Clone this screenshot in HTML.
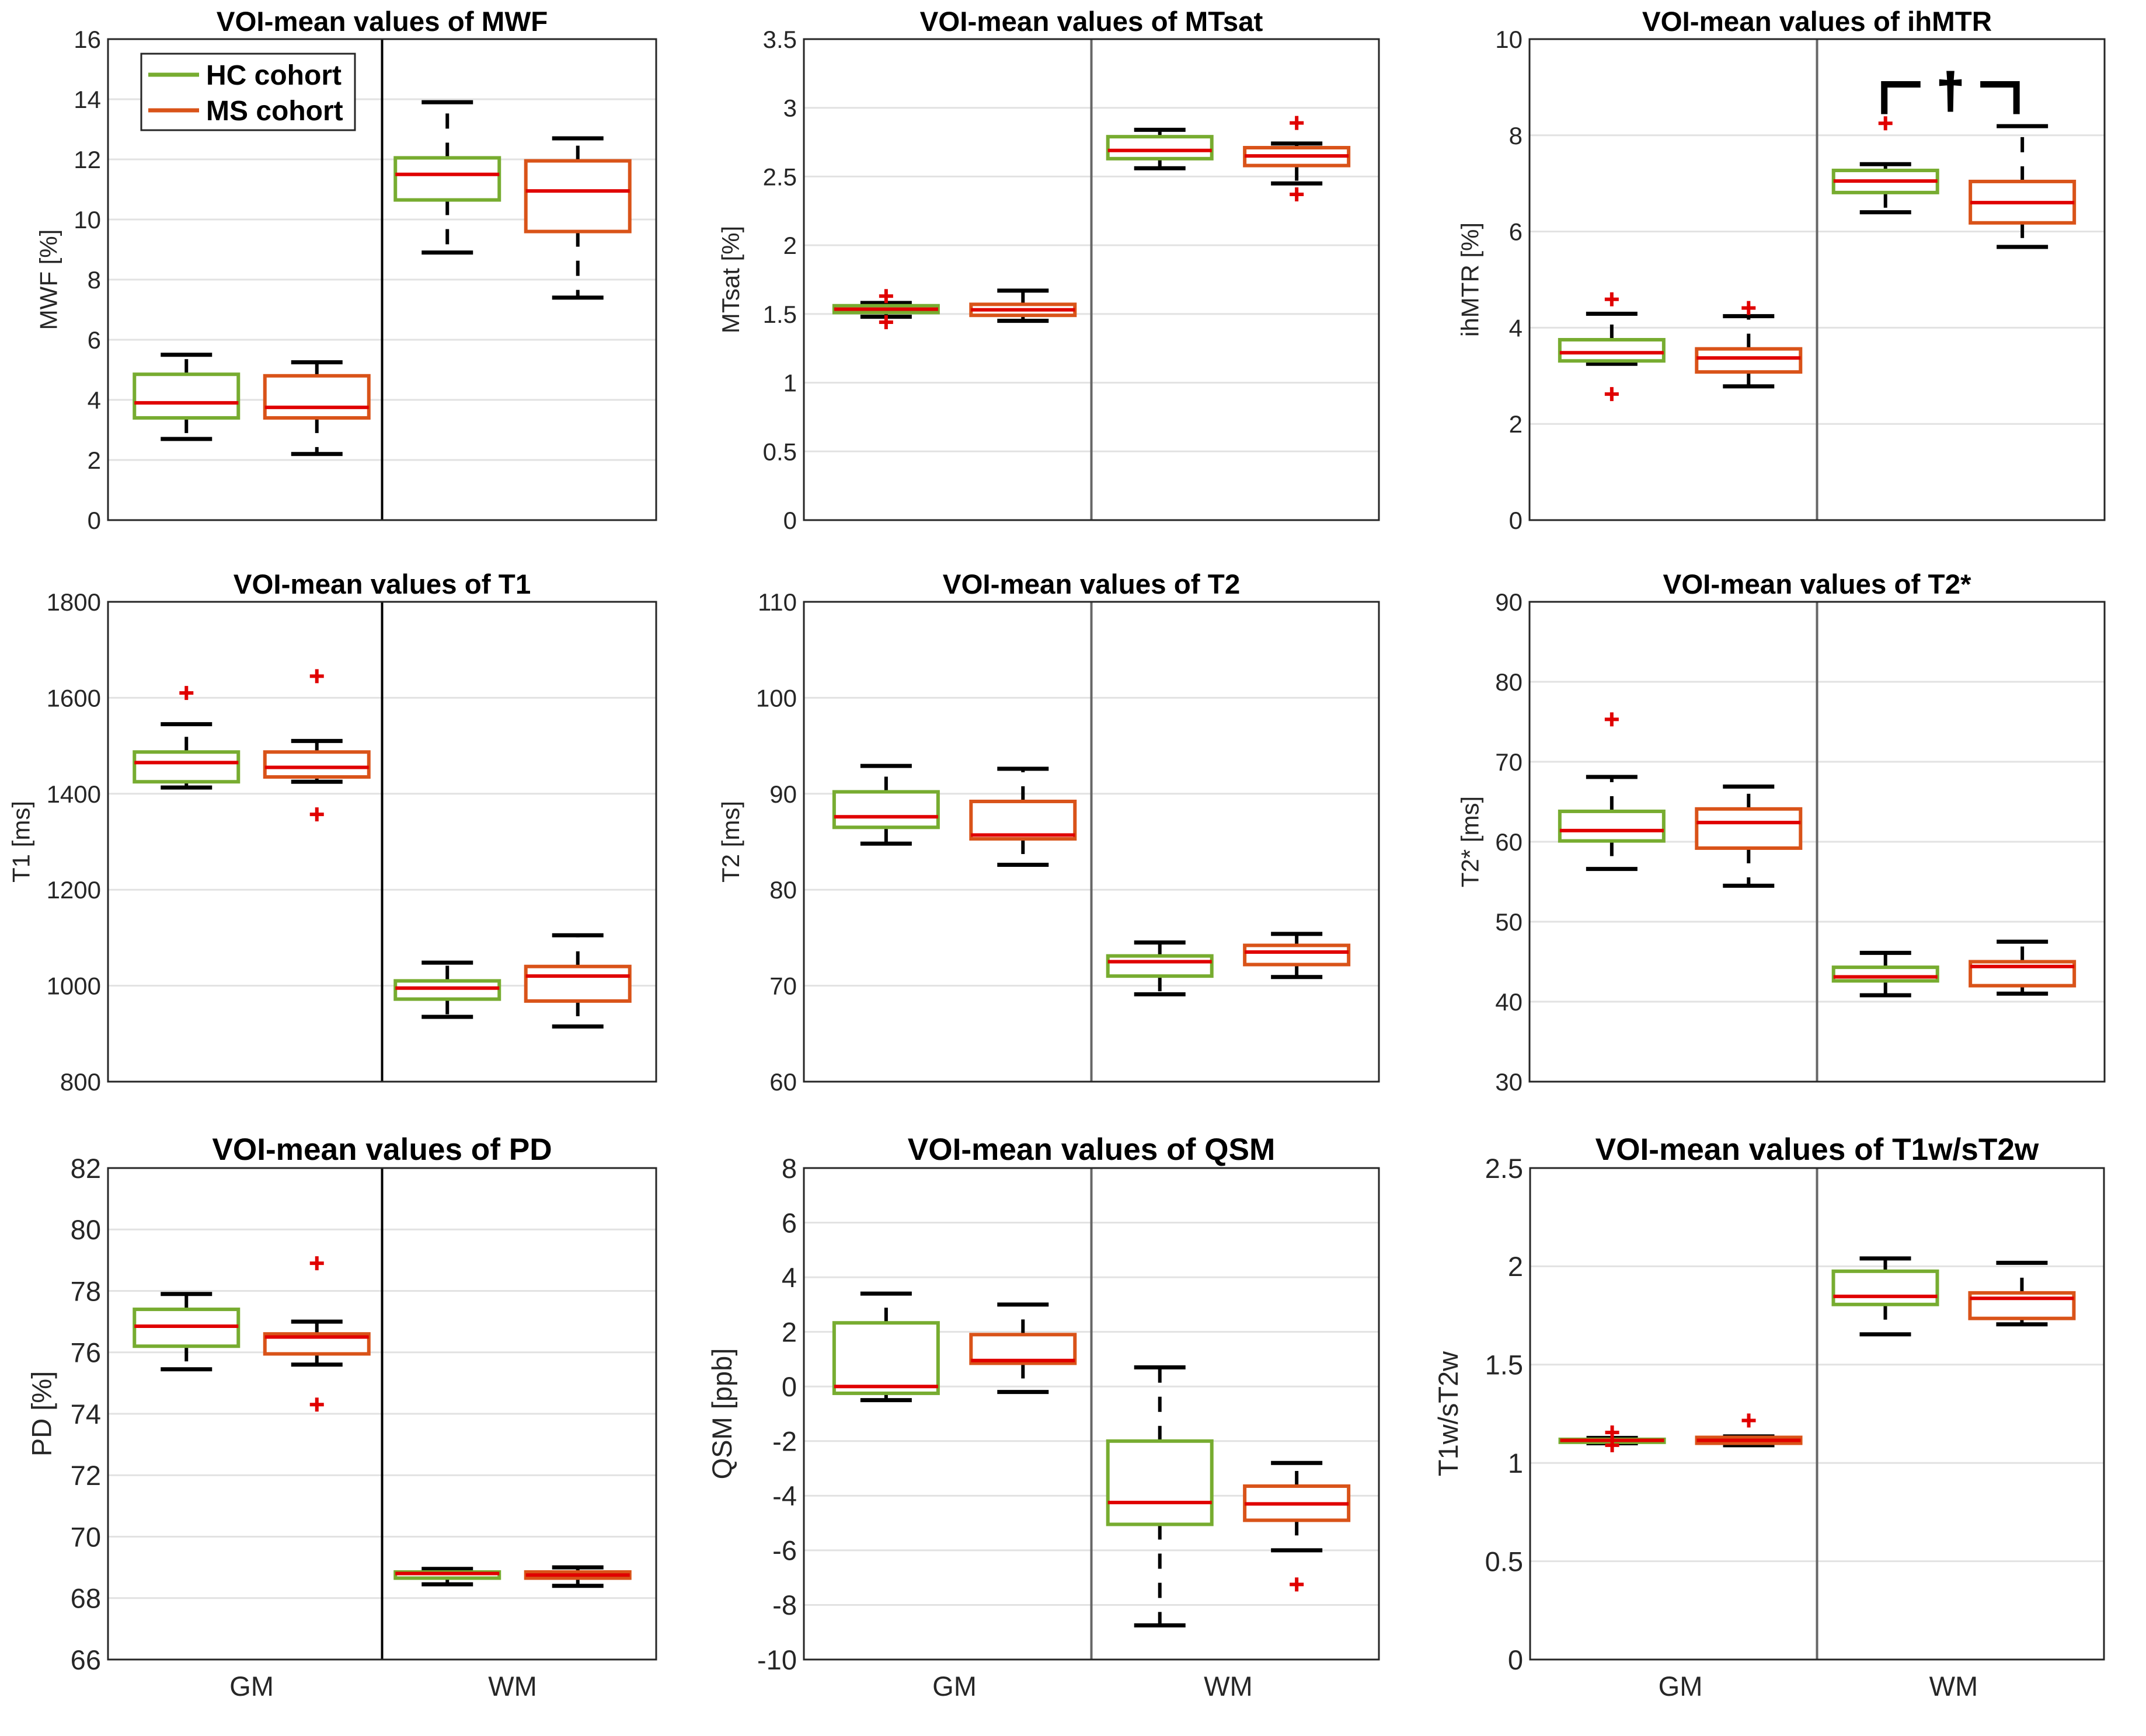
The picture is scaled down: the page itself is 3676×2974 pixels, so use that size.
<!DOCTYPE html>
<html><head><meta charset="utf-8"><title>VOI-mean values</title>
<style>
html,body{margin:0;padding:0;background:#fff;}
svg{display:block;font-family:"Liberation Sans",Arial,sans-serif;}
</style></head>
<body>
<svg id="fig" width="3676" height="2974" viewBox="0 0 3676 2974" xmlns="http://www.w3.org/2000/svg"></svg>
<script>
// ---- data (order: GM-HC, GM-MS, WM-HC, WM-MS); each box = [lowWhisker, q1, median, q3, highWhisker]
const groupLabels = ["GM", "WM"];
const cohortLabels = ["HC cohort", "MS cohort"];

const mwfStats = [[2.7,3.4,3.9,4.85,5.5],[2.2,3.4,3.75,4.8,5.25],[8.9,10.65,11.5,12.05,13.9],[7.4,9.6,10.95,11.95,12.7]];
const mwfOutliers = [[],[],[],[]];
const mwfTicks = ["0","2","4","6","8","10","12","14","16"];

const mtsatStats = [[1.48,1.51,1.535,1.56,1.58],[1.45,1.49,1.53,1.57,1.67],[2.56,2.63,2.69,2.79,2.84],[2.45,2.58,2.65,2.71,2.74]];
const mtsatOutliers = [[1.63,1.44],[],[],[2.89,2.37]];
const mtsatTicks = ["0","0.5","1","1.5","2","2.5","3","3.5"];

const ihmtrStats = [[3.25,3.31,3.48,3.75,4.29],[2.78,3.08,3.37,3.56,4.24],[6.4,6.81,7.05,7.27,7.4],[5.68,6.18,6.6,7.04,8.19]];
const ihmtrOutliers = [[4.59,2.62],[4.41],[8.25],[]];
const ihmtrTicks = ["0","2","4","6","8","10"];

const t1Stats = [[1413,1425,1465,1487,1545],[1425,1435,1455,1487,1510],[935,972,995,1010,1048],[915,968,1020,1040,1105]];
const t1Outliers = [[1610],[1645,1357],[],[]];
const t1Ticks = ["800","1000","1200","1400","1600","1800"];

const t2Stats = [[84.8,86.5,87.6,90.2,92.9],[82.6,85.3,85.7,89.2,92.6],[69.1,71.0,72.5,73.1,74.5],[70.9,72.2,73.5,74.2,75.4]];
const t2Outliers = [[],[],[],[]];
const t2Ticks = ["60","70","80","90","100","110"];

const t2sStats = [[56.6,60.1,61.4,63.8,68.1],[54.5,59.2,62.4,64.1,66.9],[40.8,42.6,43.1,44.3,46.1],[41,42,44.4,45.0,47.5]];
const t2sOutliers = [[75.3],[],[],[]];
const t2sTicks = ["30","40","50","60","70","80","90"];

const pdStats = [[75.45,76.2,76.85,77.4,77.9],[75.6,75.95,76.5,76.6,77.0],[68.45,68.65,68.8,68.85,68.95],[68.4,68.65,68.75,68.85,69.0]];
const pdOutliers = [[],[78.9,74.3],[],[]];
const pdTicks = ["66","68","70","72","74","76","78","80","82"];

const qsmStats = [[-0.5,-0.25,0,2.33,3.4],[-0.2,0.85,0.95,1.9,3.0],[-8.75,-5.05,-4.25,-2.0,0.7],[-6.0,-4.9,-4.3,-3.65,-2.8]];
const qsmOutliers = [[],[],[],[-7.25]];
const qsmTicks = ["-10","-8","-6","-4","-2","0","2","4","6","8"];

const t1wStats = [[1.1,1.105,1.115,1.12,1.127],[1.09,1.1,1.115,1.13,1.135],[1.654,1.806,1.847,1.975,2.04],[1.705,1.735,1.837,1.865,2.018]];
const t1wOutliers = [[1.155,1.09],[1.216],[],[]];
const t1wTicks = ["0","0.5","1","1.5","2","2.5"];

// significance bracket (ihMTR, WM): [bracketTopValue, bracketBottomValue]
const ihmtrBracket = [9.06, 8.44];

// ---- layout (positions only)
const panels = [
 {key:"mwf",title:"VOI-mean values of MWF",ylabel:"MWF [%]",stats:mwfStats,out:mwfOutliers,ticks:mwfTicks,L:185,R:1124,T:67,B:891,s:1,div:"#000",legend:true,dash:true},
 {key:"mtsat",title:"VOI-mean values of MTsat",ylabel:"MTsat [%]",stats:mtsatStats,out:mtsatOutliers,ticks:mtsatTicks,L:1377,R:2362,T:67,B:891,s:1,div:"#666",dash:true},
 {key:"ihmtr",title:"VOI-mean values of ihMTR",ylabel:"ihMTR [%]",stats:ihmtrStats,out:ihmtrOutliers,ticks:ihmtrTicks,L:2620,R:3605,T:67,B:891,s:1,div:"#666",dash:true,bracket:true},
 {key:"t1",title:"VOI-mean values of T1",ylabel:"T1 [ms]",stats:t1Stats,out:t1Outliers,ticks:t1Ticks,L:185,R:1124,T:1031,B:1853,s:1,div:"#000",dash:true},
 {key:"t2",title:"VOI-mean values of T2",ylabel:"T2 [ms]",stats:t2Stats,out:t2Outliers,ticks:t2Ticks,L:1377,R:2362,T:1031,B:1853,s:1,div:"#666",dash:true},
 {key:"t2s",title:"VOI-mean values of T2*",ylabel:"T2* [ms]",stats:t2sStats,out:t2sOutliers,ticks:t2sTicks,L:2620,R:3605,T:1031,B:1853,s:1,div:"#666",dash:true},
 {key:"pd",title:"VOI-mean values of PD",ylabel:"PD [%]",stats:pdStats,out:pdOutliers,ticks:pdTicks,L:185,R:1124,T:2001,B:2843,s:1.12,div:"#000",xlab:true,dash:true},
 {key:"qsm",title:"VOI-mean values of QSM",ylabel:"QSM [ppb]",stats:qsmStats,out:qsmOutliers,ticks:qsmTicks,L:1377,R:2362,T:2001,B:2843,s:1.12,div:"#666",xlab:true,dash:true},
 {key:"t1w",title:"VOI-mean values of T1w/sT2w",ylabel:"T1w/sT2w",stats:t1wStats,out:t1wOutliers,ticks:t1wTicks,L:2621,R:3604,T:2001,B:2843,s:1.12,div:"#666",xlab:true,dash:true}
];
const xFrac = [0.143,0.381,0.619,0.857];
const boxColors = ["#77AC30","#D95319","#77AC30","#D95319"];
const NS = "http://www.w3.org/2000/svg";
const svg = document.getElementById("fig");
function mk(tag, attrs, parent){
  const e = document.createElementNS(NS, tag);
  for (const k in attrs) e.setAttribute(k, attrs[k]);
  (parent||svg).appendChild(e);
  return e;
}

panels.forEach(p=>{
  const g = mk("g",{});
  
  
  const W = p.R-p.L, H = p.B-p.T;
  const vmin = parseFloat(p.ticks[0]), vmax = parseFloat(p.ticks[p.ticks.length-1]);
  const y = v => p.B - (v - vmin)/(vmax - vmin)*H;
  const x = f => p.L + f*W;
  const s = p.s;
  p.ticks.forEach((t,i)=>{
    const yy = y(parseFloat(t));
    if (i>0 && i<p.ticks.length-1){
      const gl = mk("line",{x1:p.L,x2:p.R,y1:yy,y2:yy,stroke:"#e2e2e2","stroke-width":3},g);
      
      
    }
    const tl = mk("text",{x:p.L-12,y:yy+15*s,"text-anchor":"end","font-size":42*s,fill:"#262626"},g);
    tl.textContent = t;
    
    
  });
  const dv = mk("line",{x1:x(0.5),x2:x(0.5),y1:p.T,y2:p.B,stroke:p.div,"stroke-width":4},g);
  
  
  p.stats.forEach((st,i)=>{
    const cx = x(xFrac[i]);
    const bw = 178, cw = 88;
    const bg = mk("g",{},g);
    
    
    const dash = p.dash ? "26,24" : "none";
    mk("line",{x1:cx,x2:cx,y1:y(st[3]),y2:y(st[4]),stroke:"#000","stroke-width":6,"stroke-dasharray":dash},bg);
    mk("line",{x1:cx,x2:cx,y1:y(st[1]),y2:y(st[0]),stroke:"#000","stroke-width":6,"stroke-dasharray":dash},bg);
    mk("line",{x1:cx-cw/2,x2:cx+cw/2,y1:y(st[4]),y2:y(st[4]),stroke:"#000","stroke-width":7},bg);
    mk("line",{x1:cx-cw/2,x2:cx+cw/2,y1:y(st[0]),y2:y(st[0]),stroke:"#000","stroke-width":7},bg);
    mk("rect",{x:cx-bw/2,y:y(st[3]),width:bw,height:Math.max(1,y(st[1])-y(st[3])),fill:"#fff",stroke:boxColors[i],"stroke-width":6},bg);
    mk("line",{x1:cx-bw/2,x2:cx+bw/2,y1:y(st[2]),y2:y(st[2]),stroke:"#e00000","stroke-width":6},bg);
    p.out[i].forEach(v=>{
      const o = mk("path",{d:`M${cx-12},${y(v)}h24M${cx},${y(v)-12}v24`,stroke:"#e00000","stroke-width":6,fill:"none"},g);
      
      
    });
  });
  const fr = mk("rect",{x:p.L,y:p.T,width:W,height:H,fill:"none",stroke:"#262626","stroke-width":3},g);
  
  
  const tt = mk("text",{x:(p.L+p.R)/2,y:p.T-14,"text-anchor":"middle","font-size":47.5*s,"font-weight":"bold",fill:"#000"},g);
  tt.textContent = p.title;
  
  
  const maxc = Math.max(...p.ticks.map(t=>t.length));
  const lx = p.L - (55 + 23.5*maxc)*s;
  const ly = (p.T+p.B)/2;
  const yl = mk("text",{x:lx,y:ly,"text-anchor":"middle","font-size":42*s,fill:"#262626",transform:`rotate(-90 ${lx} ${ly})`,"dominant-baseline":"central"},g);
  yl.textContent = p.ylabel;
  
  
  if (p.xlab){
    groupLabels.forEach((lab,k)=>{
      const xx = x((xFrac[2*k]+xFrac[2*k+1])/2);
      const xl = mk("text",{x:xx,y:p.B+62,"text-anchor":"middle","font-size":42*s,fill:"#262626"},g);
      xl.textContent = lab;
      
      
    });
  }
  if (p.legend){
    const lg = mk("g",{},g);
    
    
    mk("rect",{x:242,y:92,width:366,height:131,fill:"#fff",stroke:"#262626","stroke-width":3},lg);
    cohortLabels.forEach((lab,k)=>{
      const yy = 128 + k*61;
      const ln = mk("line",{x1:254,x2:341,y1:yy,y2:yy,stroke:boxColors[k],"stroke-width":7},lg);
      
      
      const lt = mk("text",{x:353,y:yy+17,"font-size":48,"font-weight":"bold",fill:"#000"},lg);
      lt.textContent = lab;
      
      
    });
  }
  if (p.bracket){
    const yt = y(ihmtrBracket[0]), yb = y(ihmtrBracket[1]);
    const x1 = x(xFrac[2]) - 2, x2 = x(xFrac[3]) - 10;
    const bk = mk("path",{d:`M${x1},${yb}V${yt}H${x1+62}M${x2-62},${yt}H${x2}V${yb}`,stroke:"#000","stroke-width":11,fill:"none"},g);
    
    
    const dg = mk("text",{x:(x1+x2)/2,y:yt+40,"text-anchor":"middle","font-size":84,"font-weight":"bold",fill:"#000",stroke:"#000","stroke-width":3},g);
    dg.textContent = "†";
    
    
  }
});
</script>
</body></html>
